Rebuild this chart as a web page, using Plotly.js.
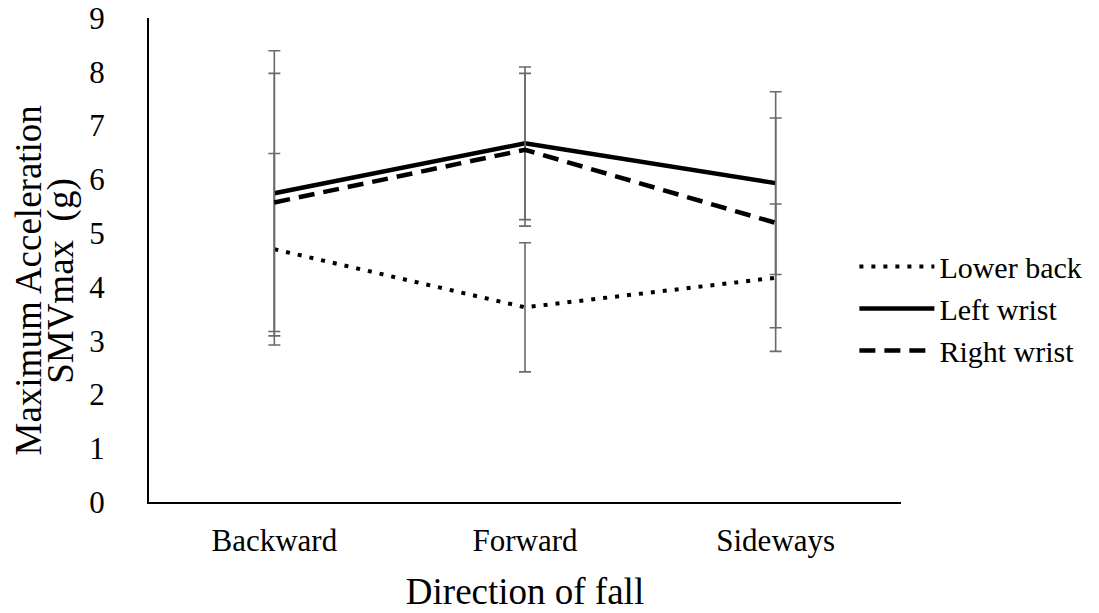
<!DOCTYPE html>
<html>
<head>
<meta charset="utf-8">
<script src="https://cdn.plot.ly/plotly-3.0.1.min.js"></script>
<style>html,body{margin:0;padding:0;background:#fff;}#chart{width:1099px;height:613px;}</style>
</head>
<body>
<div id="chart"></div>
<script>
const categories = ["Backward", "Forward", "Sideways"];
const lowerBack = [4.70, 3.62, 4.17];
const lowerBackErr = [1.78, 1.20, 1.37];
const leftWrist = [5.74, 6.67, 5.93];
const leftWristErr = [2.65, 1.42, 1.70];
const rightWrist = [5.57, 6.55, 5.19];
const rightWristErr = [2.40, 1.42, 1.95];
const yTicks = [0, 1, 2, 3, 4, 5, 6, 7, 8, 9];
const yTitleLines = ["Maximum Acceleration", "SMVmax  (g)"];

const font = "'Liberation Serif', 'Times New Roman', serif";
function errStyle(arr) {
  return {type: "data", array: arr, symmetric: true, visible: true,
          color: "#6a6a6a", thickness: 1.6, width: 6};
}
const traces = [
  {x: categories, y: lowerBack, name: "Lower back", type: "scatter", mode: "lines",
   line: {color: "#000", width: 4, dash: "4px,8px"}, error_y: errStyle(lowerBackErr)},
  {x: categories, y: leftWrist, name: "Left wrist", type: "scatter", mode: "lines",
   line: {color: "#000", width: 4.5}, error_y: errStyle(leftWristErr)},
  {x: categories, y: rightWrist, name: "Right wrist", type: "scatter", mode: "lines",
   line: {color: "#000", width: 4.5, dash: "16px,9px"}, error_y: errStyle(rightWristErr)}
];
const layout = {
  width: 1099, height: 613,
  margin: {l: 149, r: 195, t: 18, b: 111},
  paper_bgcolor: "#fff", plot_bgcolor: "#fff",
  font: {family: font, size: 31, color: "#000"},
  showlegend: true,
  legend: {x: 0.938, xanchor: "left", y: 0.40, yanchor: "middle",
           font: {family: font, size: 30, color: "#000"},
           itemwidth: 75, tracegroupgap: 0, bgcolor: "rgba(0,0,0,0)"},
  xaxis: {type: "category", range: [-0.5, 2.5], showgrid: false, zeroline: false,
          showline: true, linecolor: "#000", linewidth: 2, ticks: "",
          tickfont: {family: font, size: 31}, ticklabelstandoff: 10,
          title: {text: "Direction of fall", font: {family: font, size: 37}, standoff: 21}},
  yaxis: {range: [0, 9], tickvals: yTicks, showgrid: false, zeroline: false,
          showline: true, linecolor: "#000", linewidth: 2, ticks: "",
          tickfont: {family: font, size: 31}, ticklabelstandoff: 36},
  annotations: [
    {text: yTitleLines[0], xref: "paper", yref: "paper", x: -0.160, y: 0.457,
     xanchor: "center", yanchor: "middle", textangle: -90, showarrow: false,
     font: {family: font, size: 37, color: "#000"}},
    {text: yTitleLines[1], xref: "paper", yref: "paper", x: -0.117, y: 0.457,
     xanchor: "center", yanchor: "middle", textangle: -90, showarrow: false,
     font: {family: font, size: 37, color: "#000"}}
  ]
};
Plotly.newPlot("chart", traces, layout, {displayModeBar: false, staticPlot: true});
</script>
</body>
</html>
